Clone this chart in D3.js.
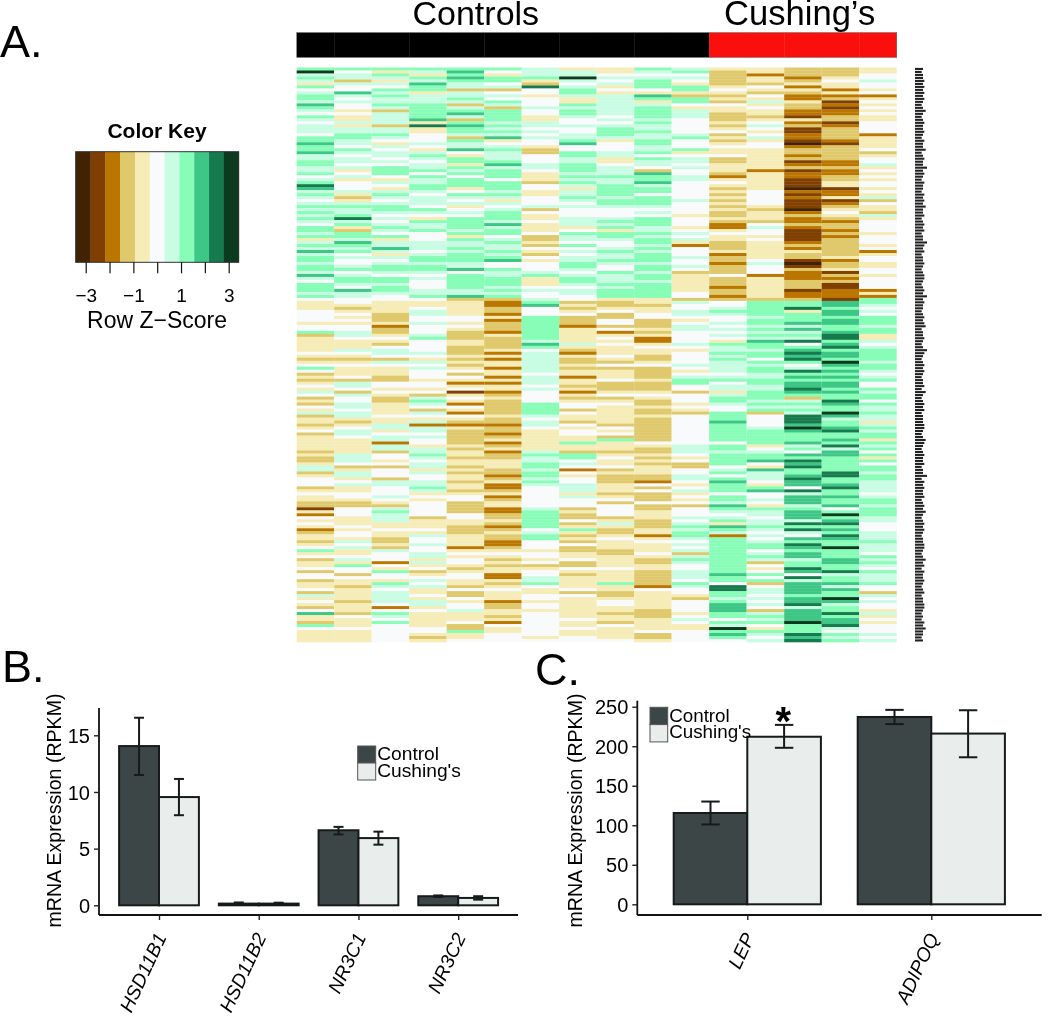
<!DOCTYPE html>
<html>
<head>
<meta charset="utf-8">
<script src="https://cdn.jsdelivr.net/npm/d3@7"></script>
<style>
html,body{margin:0;padding:0;background:#fff}
svg{display:block;filter:blur(0.35px)}
text{font-family:"Liberation Sans",Arial,sans-serif;fill:#000}
</style>
</head>
<body>
<svg id="chart" width="1050" height="1019"></svg>
<script>
// ---------- Panel A data: binned row z-score level per sample (0 = darkest brown ... a = darkest green), read top to bottom ----------
const c01="7a67647567 7687657656 6657787786 6776675679 8676567676 7657767467 6867767768 6577767544 4555545573 4444454345 7534345465 3435463443 4534444434 3346634555 3454433142 5454234434 5745344535 5344536454 3584437544 44";
const c02="7566365586 5655454464 6677665765 6656456455 5643467667 9674377687 6756556756 7765866554 3454545566 5444654345 4445366536 5566566434 5665444446 6653466456 4455433555 4445455465 6445647553 5443444434 4435444544 44";
const c03="7476465767 6676366663 6676546566 5657775465 4676567765 6567657466 8646567765 7767765544 4433342334 5435665365 4443355454 3344445446 6456626635 5453555366 5556543676 6644544334 3655525475 5476566665 2576575555 55";
const c04="7647687746 6677777849 4455565467 6566757667 7656665765 4766755566 6567767765 6555667544 5665565556 7555565465 6555455453 6765365462 6656554667 6566465566 7645455555 3444546556 5566464534 5656445466 4544444554 34";
const c05="7878766366 7636786378 7763766854 7747675777 4576564565 7777674766 7677766857 7777668344 4445545433 3443334343 4535424514 5425425432 4333334344 3443434434 4345533335 5443334444 2454554345 5443533545 5644453374 45";
const c06="7547756356 5763777767 6768456766 6786777577 7676465677 7686775676 6767855766 7776767322 3324233324 3333424244 2442424423 4333334332 3323423423 3444332342 2342344223 3432343322 3454343442 2434544423 3443425445 55";
const c07="6667439554 5556554466 5656554335 5566544435 5445556354 4544453343 5435455567 4445655678 5557777777 7687566666 6656665655 5577776566 5444444467 6677677676 5555555677 7777567755 5455453455 6675445545 5455555555 45";
const c08="466a656776 4476776556 5566785577 6677767676 4667656555 6664576657 5656677656 7765665534 3453332444 4464324334 3442443424 3455354435 4554474437 7565254556 6646555343 3534743435 3344533543 4444535444 4444544544 55";
const c09="4456564546 6666665656 7776455566 4456667667 7776776555 6767477655 6766765576 6676777433 4533553524 5454445435 3444533345 3454444443 5453744434 5445343334 4434535555 3464334544 4334444544 4474433455 4434435444 45";
const c10="7656777548 7467777676 6766776675 7665387786 7757776565 7776676776 7677767767 7677777443 4455333434 2245443345 3333433345 4334334333 3333354334 3434443325 3533353344 4333442454 4454334433 3332544444 4333444453 34";
const c11="6756547743 7754666555 5567555745 6656556655 5555655554 5554565642 5556556534 4444455365 5665456655 5565455556 5456775535 5545435555 5555556665 4533556654 5645453555 6567677656 5636765566 6576554355 5545654455 55";
const c12="4333334543 4354433343 4534345445 3344432454 3434343433 4322454433 3423323335 3332332355 6765565656 5476676766 6656756646 7765577787 7777757767 7775675787 7757768765 6748762777 7777777778 7759977678 8877576a78 75";
const c13="4424435435 4645443456 5456455444 4444244444 4555554344 4356554544 4444565552 4444444377 7776776767 6877677576 7766776677 7676735555 6777774567 7854866654 7855654766 5667656567 7567635457 5735665656 5367675476 56";
const c14="3332342432 2433221423 1122102332 3123122111 0212111023 2232111123 2433101322 2333122377 9477786867 6957898975 6978788987 3676769998 a877786758 7989778988 5968886788 8697965879 8788677985 9688887889 68888a7779 89";
const c15="3334544242 3121223312 3333213333 3223223344 1224123454 3233232333 3334233413 2311222188 7887887789 97897887a8 7878788787 79877a8677 8977879688 7777799778 977877857a 7897879877 a777887796 7786877a86 7797889657 67";
const c16="4455655452 4545454455 5524444534 5564545455 4546354436 4555545554 5245544554 5555242776 5657776774 4656777767 7656755767 7576676646 7677476757 4757767766 6656776777 6655566676 6657676576 6675536565 5464545556 56";
const heatColumns=[c01,c02,c03,c04,c05,c06,c07,c08,c09,c10,c11,c12,c13,c14,c15,c16];
const sampleGroups=["Controls","Controls","Controls","Controls","Controls","Controls","Controls","Controls","Controls","Controls","Controls","Cushing’s","Cushing’s","Cushing’s","Cushing’s","Cushing’s"];
const groupLabels=["Controls","Cushing’s"];
const groupColors=["#000000","#fb0f0c"];
const keyColors=["#412203","#7f3f02","#bb7600","#dfc96c","#f5ecb7","#f8fafb","#c8fce3","#87fdb7","#3ec686","#157a4d","#0b3a1e"];
const keyTicks=[-3,-2,-1,0,1,2,3];
const keyTickLabels=["−3","","−1","","1","","3"];
// gene-symbol lengths of the illegible row labels, in characters
const rowLabelChars="6566767676 7656865676 6765766856 7669676576 6576768667 5676756697 6756676567 7656769676 6567678566 7656976567 6765667586 5676756667 7656876567 6675669576 7667567686 5676765667 7656867576 6765675667 7656576866 56";

// ---------- Panel B data ----------
const genesB=["HSD11B1","HSD11B2","NR3C1","NR3C2"];
const controlB=[14.05,0.15,6.62,0.8];
const cushingB=[9.55,0.15,5.93,0.65];
const controlLowB=[11.5,0.05,6.25,0.74];
const controlHighB=[16.55,0.25,6.92,0.87];
const cushingLowB=[7.95,0.07,5.35,0.5];
const cushingHighB=[11.15,0.23,6.5,0.8];
const ticksB=[0,5,10,15];

// ---------- Panel C data ----------
const genesC=["LEP","ADIPOQ"];
const controlC=[115.5,237];
const cushingC=[212,216];
const controlLowC=[101,228];
const controlHighC=[130,246];
const cushingLowC=[198,186];
const cushingHighC=[227,245.5];
const ticksC=[0,50,100,150,200,250];
const seriesNames=["Control","Cushing's"];
const seriesFills=["#3d4647","#e9edeb"];

// ---------- Drawing ----------
const svg=d3.select("#chart");
const clean=s=>s.replace(/ /g,"");
const levelOf=ch=>parseInt(ch,16);
const zOfLevel=l=>(l-5)*(6.84/11);

const colorScale=d3.scaleQuantize().domain([-3.42,3.42]).range(keyColors);

// slight vertical softening of the raster, as in the source image
const defs=svg.append("defs");
defs.append("filter").attr("id","soft").attr("x","-2%").attr("y","-2%").attr("width","104%").attr("height","104%")
  .append("feGaussianBlur").attr("stdDeviation","0.2 0.5");

// heat map
const nRows=clean(heatColumns[0]).length;
const xHeat=d3.scaleBand().domain(d3.range(heatColumns.length)).range([296.7,896.7]);
const yHeat=d3.scaleBand().domain(d3.range(nRows)).range([67.5,642]);
const cells=heatColumns.flatMap((c,i)=>Array.from(clean(c)).map((ch,r)=>({col:i,row:r,z:zOfLevel(levelOf(ch))})));
svg.append("g").attr("filter","url(#soft)").selectAll("rect").data(cells).join("rect")
  .attr("x",d=>xHeat(d.col)).attr("y",d=>yHeat(d.row))
  .attr("width",xHeat.bandwidth()).attr("height",yHeat.bandwidth()+0.3)
  .attr("fill",d=>colorScale(d.z));

// column side colours
const colorOfGroup=d3.scaleOrdinal().domain(groupLabels).range(groupColors);
svg.append("g").selectAll("rect").data(sampleGroups).join("rect")
  .attr("x",(d,i)=>xHeat(i)).attr("y",32.5)
  .attr("width",xHeat.bandwidth()+0.3).attr("height",25)
  .attr("fill",d=>colorOfGroup(d));
svg.append("rect").attr("x",296.7).attr("y",32.5).attr("width",600).attr("height",25)
  .attr("fill","none").attr("stroke","#777").attr("stroke-width",0.6);

// group labels
svg.append("text").attr("x",412.5).attr("y",25).attr("font-size",34).text(groupLabels[0]);
svg.append("text").attr("x",724).attr("y",25).attr("font-size",34.6).text(groupLabels[1]);

// row labels: too small to read in the source, so only their ragged ink strip is kept
const wLabel=d3.scaleLinear().domain([0,9]).range([0,12]);
svg.append("g").attr("filter","url(#soft)").selectAll("rect").data(Array.from(clean(rowLabelChars))).join("rect")
  .attr("x",915).attr("y",(d,i)=>yHeat(i)+0.4)
  .attr("width",d=>wLabel(+d)).attr("height",yHeat.bandwidth()-0.9)
  .attr("fill","#222");

// colour key
const xKey=d3.scaleLinear().domain([-3.42,3.42]).range([75.7,238.7]);
const gKey=svg.append("g");
gKey.selectAll("rect").data(keyColors).join("rect")
  .attr("x",(d,i)=>xKey(colorScale.invertExtent(d)[0]))
  .attr("y",151.7)
  .attr("width",d=>xKey(colorScale.invertExtent(d)[1])-xKey(colorScale.invertExtent(d)[0])+0.3)
  .attr("height",110.6).attr("fill",d=>d);
gKey.append("rect").attr("x",75.7).attr("y",151.7).attr("width",163).attr("height",110.6)
  .attr("fill","none").attr("stroke","#333").attr("stroke-width",1);
const axKey=d3.axisBottom(xKey).tickValues(keyTicks).tickSize(11).tickPadding(15)
  .tickFormat((d,i)=>keyTickLabels[i]);
const gKeyAxis=svg.append("g").attr("transform","translate(0,262.3)").call(axKey);
gKeyAxis.select(".domain").remove();
gKeyAxis.selectAll("line").attr("stroke","#111").attr("stroke-width",1.2);
gKeyAxis.selectAll("text").attr("font-size",19).attr("font-family","Liberation Sans");
svg.append("text").attr("x",157).attr("y",138).attr("text-anchor","middle").attr("font-size",21).attr("font-weight","bold").text("Color Key");
svg.append("text").attr("x",157).attr("y",328).attr("text-anchor","middle").attr("font-size",23).text("Row Z−Score");

// panel letters
[["A.",0,57],["B.",2,682],["C.",535,685]].forEach(([t,x,y])=>{
  svg.append("text").attr("x",x).attr("y",y).attr("font-size",45).text(t);
});

function barPanel(o){
  const x=d3.scalePoint().domain(o.genes).range(o.xRange);
  const step=x.step();
  const y=d3.scaleLinear().domain(o.yDomain).range(o.yRange);
  const g=svg.append("g");
  const rows=o.genes.flatMap((gene,i)=>[
    {gene,s:0,v:o.control[i],lo:o.controlLow[i],hi:o.controlHigh[i]},
    {gene,s:1,v:o.cushing[i],lo:o.cushingLow[i],hi:o.cushingHigh[i]}]);
  const bw=step*0.4;
  const xOf=d=>x(d.gene)+(d.s===0?-bw:0);
  g.selectAll("rect.b").data(rows).join("rect").attr("class","b")
    .attr("x",xOf).attr("y",d=>y(d.v)).attr("width",bw).attr("height",d=>y(0)-y(d.v))
    .attr("fill",d=>seriesFills[d.s]).attr("stroke","#161a1a").attr("stroke-width",o.barStroke);
  const cap=step*0.05;
  const cx=d=>xOf(d)+bw/2;
  const eb=g.selectAll("g.e").data(rows).join("g").attr("class","e")
    .attr("stroke","#161a1a").attr("stroke-width",2);
  eb.append("line").attr("x1",cx).attr("x2",cx).attr("y1",d=>y(d.lo)).attr("y2",d=>y(d.hi));
  eb.append("line").attr("x1",d=>cx(d)-cap).attr("x2",d=>cx(d)+cap).attr("y1",d=>y(d.lo)).attr("y2",d=>y(d.lo));
  eb.append("line").attr("x1",d=>cx(d)-cap).attr("x2",d=>cx(d)+cap).attr("y1",d=>y(d.hi)).attr("y2",d=>y(d.hi));

  // axes
  const ay=d3.axisLeft(y).tickValues(o.ticks).tickSize(5).tickPadding(4).tickFormat(d3.format("d"));
  const gy=svg.append("g").attr("transform",`translate(${o.axisX},0)`).call(ay);
  gy.select(".domain").attr("d",`M0,${o.axisTop}V${o.axisY}`).attr("stroke","#111").attr("stroke-width",1.8);
  gy.selectAll("line").attr("stroke","#222").attr("stroke-width",1.4);
  gy.selectAll("text").attr("font-size",o.tickFont).attr("font-family","Liberation Sans").attr("dy","0.36em");
  const ax=d3.axisBottom(x).tickSize(5).tickFormat("");
  const gx=svg.append("g").attr("transform",`translate(0,${o.axisY})`).call(ax);
  gx.select(".domain").attr("d",`M${o.axisX},0H${o.axisRight}`).attr("stroke","#111").attr("stroke-width",1.8);
  gx.selectAll("line").attr("stroke","#222").attr("stroke-width",1.4);
  svg.append("g").selectAll("text").data(o.genes).join("text")
    .attr("transform",d=>`translate(${x(d)+o.labelDx},${o.labelY}) rotate(-65)`)
    .attr("text-anchor","end").attr("font-style","italic").attr("font-size",o.labelFont).text(d=>d);
  // y title
  svg.append("text").attr("transform",`translate(${o.titleX},${o.titleY}) rotate(-90)`)
    .attr("text-anchor","middle").attr("font-size",19.6).text("mRNA Expression (RPKM)");
  // legend
  const lg=svg.append("g");
  seriesNames.forEach((n,i)=>{
    lg.append("rect").attr("x",o.legX).attr("y",o.legY+i*o.legStep).attr("width",o.legW).attr("height",o.legStep)
      .attr("fill",seriesFills[i]).attr("stroke","#555").attr("stroke-width",1);
    lg.append("text").attr("x",o.legX+o.legW+1.5).attr("y",o.legBase[i]).attr("font-size",o.legFont).text(n);
  });
  return {x,y};
}

barPanel({genes:genesB,control:controlB,cushing:cushingB,controlLow:controlLowB,controlHigh:controlHighB,
  cushingLow:cushingLowB,cushingHigh:cushingHighB,ticks:ticksB,
  xRange:[159,458.2],yDomain:[0,15],yRange:[905.3,735.3],barStroke:2,
  axisX:99,axisY:915,axisTop:708,axisRight:518,tickFont:20,labelFont:19.4,labelDx:8,labelY:937,
  titleX:61,titleY:810.5,legX:357.7,legY:746,legW:18,legStep:17,legBase:[760,776.7],legFont:19.2});

const pc=barPanel({genes:genesC,control:controlC,cushing:cushingC,controlLow:controlLowC,controlHigh:controlHighC,
  cushingLow:cushingLowC,cushingHigh:cushingHighC,ticks:ticksC,
  xRange:[747.3,931.3],yDomain:[0,250],yRange:[904.3,706.7],barStroke:2,
  axisX:637.3,axisY:915,axisTop:700.7,axisRight:1041.7,tickFont:20,labelFont:19.4,labelDx:8,labelY:937,
  titleX:581.7,titleY:810.5,legX:650,legY:707.3,legW:17.7,legStep:17.3,legBase:[722.3,737.7],legFont:18.8});

svg.append("text").attr("x",pc.x("LEP")+36).attr("y",735).attr("text-anchor","middle").attr("font-size",40).attr("font-weight","bold").text("*");
</script>
</body>
</html>
